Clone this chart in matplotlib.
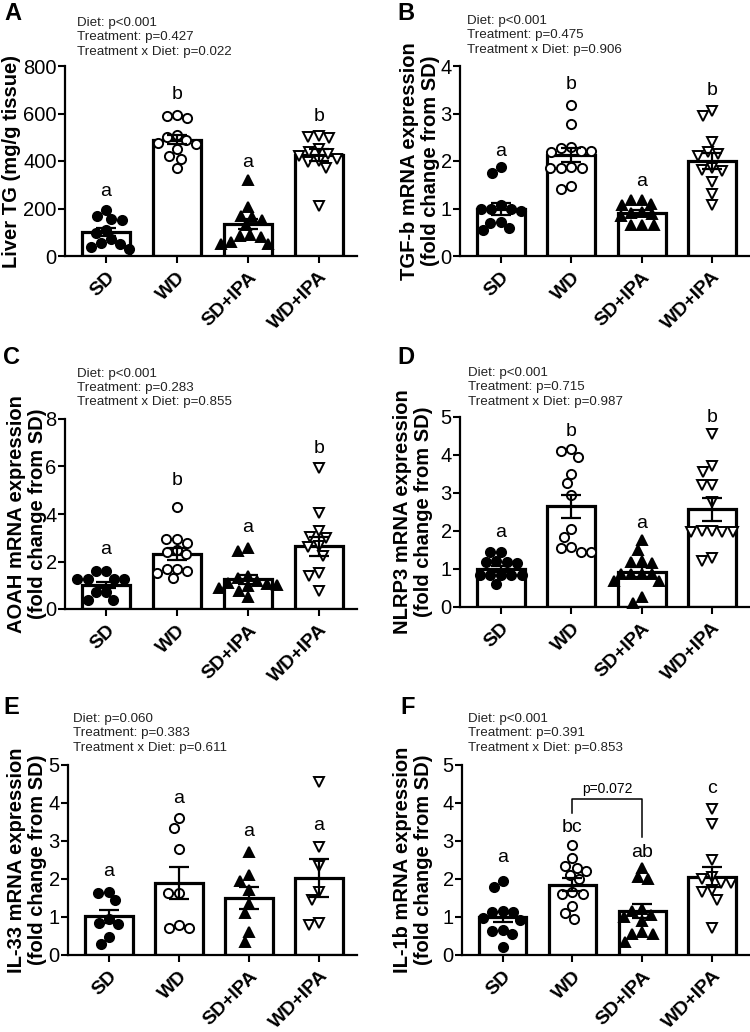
import numpy as np
import matplotlib
matplotlib.use("Agg")
from matplotlib import pyplot as plt

plt.rcParams['font.family'] = ['Liberation Sans', 'DejaVu Sans']

groups = ["SD", "WD", "SD+IPA", "WD+IPA"]

# ---------------------------------------------------------------- A: liver TG
tg_sd = [193, 150, 155, 168, 110, 95, 70, 55, 40, 30, 50]
tg_wd = [590, 580, 595, 510, 500, 490, 475, 470, 450, 420, 410, 370]
tg_sdipa = [320, 205, 170, 165, 150, 130, 90, 85, 60, 50, 50, 80]
tg_wdipa = [505, 500, 495, 450, 440, 430, 420, 410, 400, 395, 370, 210]
tg_mean = [102, 490, 134, 425]
tg_sem = [17, 20, 22, 27]
tg_letters = ["a", "b", "a", "b"]
tg_letter_y = [270, 680, 392, 588]

# ---------------------------------------------------------------- B: TGF-b
tgf_sd = [1.87, 1.75, 1.07, 1.0, 1.0, 0.98, 0.95, 0.72, 0.70, 0.58, 0.55]
tgf_wd = [3.18, 2.78, 2.22, 2.2, 2.22, 2.27, 2.3, 1.86, 1.85, 1.86, 1.88, 1.42, 1.48]
tgf_sdipa = [1.17, 1.17, 1.1, 1.08, 0.92, 0.9, 0.88, 0.85, 0.66, 0.66, 0.66]
tgf_wdipa = [3.05, 2.95, 2.4, 2.2, 2.15, 2.1, 1.82, 1.8, 1.85, 1.55, 1.3, 1.07]
tgf_mean = [0.99, 2.12, 0.91, 2.0]
tgf_sem = [0.13, 0.15, 0.06, 0.17]
tgf_letters = ["a", "b", "a", "b"]
tgf_letter_y = [2.2, 3.62, 1.56, 3.48]

# ---------------------------------------------------------------- C: AOAH
aoah_sd = [1.58, 1.58, 1.28, 1.25, 1.25, 1.28, 0.72, 0.40, 0.40, 0.72]
aoah_wd = [4.3, 2.95, 2.78, 2.95, 2.5, 2.42, 2.3, 1.68, 1.3, 1.52, 1.62, 1.7]
aoah_sdipa = [2.45, 2.55, 1.4, 1.3, 1.2, 1.1, 1.05, 1.0, 0.95, 0.9, 0.5, 0.75]
aoah_wdipa = [5.95, 4.05, 3.3, 3.0, 3.05, 2.65, 2.6, 2.25, 1.5, 1.4, 0.75]
aoah_mean = [1.02, 2.3, 1.25, 2.65]
aoah_sem = [0.12, 0.25, 0.18, 0.4]
aoah_letters = ["a", "b", "a", "b"]
aoah_letter_y = [2.52, 5.4, 3.43, 6.76]

# ---------------------------------------------------------------- D: NLRP3
nlrp3_sd = [1.45, 1.45, 1.18, 1.2, 1.16, 1.18, 0.83, 0.85, 0.83, 0.85, 0.83, 0.6]
nlrp3_wd = [4.15, 4.1, 3.95, 3.5, 3.25, 2.95, 2.05, 1.85, 1.55, 1.45, 1.45, 1.57]
nlrp3_sdipa = [1.77, 1.51, 1.21, 1.16, 1.18, 0.88, 0.88, 0.88, 0.88, 0.68, 0.68, 0.26, 0.1]
nlrp3_wdipa = [4.55, 3.7, 3.55, 3.2, 3.2, 2.75, 2.0, 1.97, 1.97, 1.97, 2.0, 1.22, 1.3]
nlrp3_mean = [1.0, 2.65, 0.92, 2.57]
nlrp3_sem = [0.08, 0.3, 0.13, 0.3]
nlrp3_letters = ["a", "b", "a", "b"]
nlrp3_letter_y = [1.97, 4.63, 2.19, 4.98]

# ---------------------------------------------------------------- E: IL-33
il33_sd = [1.67, 1.45, 1.62, 0.95, 0.85, 0.82, 0.48, 0.3]
il33_wd = [3.6, 3.35, 2.8, 1.62, 1.62, 0.8, 0.7, 0.72]
il33_sdipa = [2.7, 2.1, 1.95, 1.7, 1.35, 1.1, 0.6, 0.35]
il33_wdipa = [4.55, 2.85, 2.35, 1.65, 1.45, 0.8, 0.85]
il33_mean = [1.02, 1.9, 1.5, 2.02]
il33_sem = [0.17, 0.42, 0.28, 0.5]
il33_letters = ["a", "a", "a", "a"]
il33_letter_y = [2.21, 4.12, 3.26, 3.42]

# ---------------------------------------------------------------- F: IL-1b
il1b_sd = [1.8, 1.95, 1.12, 1.15, 1.12, 0.98, 0.92, 0.62, 0.55, 0.65, 0.22]
il1b_wd = [2.9, 2.55, 2.35, 2.3, 2.2, 2.0, 2.1, 1.65, 1.6, 1.6, 1.3, 1.1, 0.95]
il1b_sdipa = [2.3, 2.05, 2.0, 1.2, 1.15, 1.05, 1.0, 0.9, 0.6, 0.55, 0.55, 0.35]
il1b_wdipa = [3.85, 3.45, 2.5, 2.05, 2.0, 1.9, 1.9, 1.7, 1.65, 1.45, 0.7]
il1b_mean = [1.0, 1.85, 1.15, 2.05]
il1b_sem = [0.14, 0.17, 0.18, 0.27]
il1b_letters = ["a", "bc", "ab", "c"]
il1b_letter_y = [2.56, 3.36, 2.69, 4.39]
il1b_bracket = [4.1, 3.75, 3.1]   # top, left leg end, right leg end
il1b_bracket_text = "p=0.072"

# ---------------------------------------------------------------- stats text
stats_A = ["Diet: p<0.001", "Treatment: p=0.427", "Treatment x Diet: p=0.022"]
stats_B = ["Diet: p<0.001", "Treatment: p=0.475", "Treatment x Diet: p=0.906"]
stats_C = ["Diet: p<0.001", "Treatment: p=0.283", "Treatment x Diet: p=0.855"]
stats_D = ["Diet: p<0.001", "Treatment: p=0.715", "Treatment x Diet: p=0.987"]
stats_E = ["Diet: p=0.060", "Treatment: p=0.383", "Treatment x Diet: p=0.611"]
stats_F = ["Diet: p<0.001", "Treatment: p=0.391", "Treatment x Diet: p=0.853"]

W, H = 750, 1032
fig = plt.figure(figsize=(W / 100, H / 100), dpi=100)

UNIT_PX = 71.0   # pixels between bars
AX_H = 190.0     # axes height in pixels
DOT = 10.5       # spacing of swarm points in pixels

def swarm(vals, ymax):
    # simple beeswarm: put each point as close to the centre as it can go
    ppu = AX_H / ymax
    offs = np.zeros(len(vals))
    placed = []
    for i in np.argsort(vals)[::-1]:
        y = vals[i] * ppu
        ivs = []
        for xp, yp in placed:
            dy = y - yp
            if abs(dy) < DOT:
                h = np.sqrt(DOT ** 2 - dy ** 2)
                ivs.append((xp - h, xp + h))
        cands = [0.0] + [e for iv in ivs for e in iv]
        cands.sort(key=lambda c: (abs(c), c))
        x = 0.0
        for c in cands:
            if all(not (a + 1e-6 < c < b - 1e-6) for a, b in ivs):
                x = c
                break
        placed.append((x, y))
        offs[i] = x
    return offs / UNIT_PX

marker_styles = [
    dict(marker="o", mfc="black", mec="black"),
    dict(marker="o", mfc="white", mec="black"),
    dict(marker="^", mfc="black", mec="black"),
    dict(marker="v", mfc="white", mec="black"),
]

def panel(rect, letter, letter_xy, stats, stats_xy, ylabel, label_x,
          data, means, sems, letters, letter_y, ymax, yticks):
    l, t, r, b = rect
    ax = fig.add_axes([l / W, 1 - b / H, (r - l) / W, (b - t) / H])
    x = np.arange(len(groups))
    ax.bar(x, means, width=0.68, color="white", edgecolor="black",
           linewidth=2.3, zorder=1)
    for i, vals in enumerate(data):
        vals = np.array(vals, dtype=float)
        xs = i + swarm(vals, ymax)
        ax.plot(xs, vals, ls="none", ms=6.6, mew=1.4, zorder=3,
                clip_on=False, **marker_styles[i])
    ax.errorbar(x, means, yerr=sems, fmt="none", ecolor="black",
                elinewidth=1.6, capsize=7, capthick=1.6, zorder=4)
    for i in range(len(groups)):
        ax.text(x[i], letter_y[i], letters[i], ha="center", va="center",
                fontsize=14)
    ax.set_xlim(-0.58, 3.54)
    ax.set_ylim(0, ymax)
    ax.set_yticks(yticks)
    ax.set_xticks(x)
    ax.set_xticklabels(groups, rotation=45, ha="right",
                       rotation_mode="anchor", fontweight="bold",
                       fontsize=14)
    ax.tick_params(axis="y", labelsize=14.5, length=5, width=1.5, pad=1)
    ax.tick_params(axis="x", length=5, width=1.5, pad=4)
    for s in ["top", "right"]:
        ax.spines[s].set_visible(False)
    for s in ["left", "bottom"]:
        ax.spines[s].set_linewidth(1.6)
    fig.text(label_x / W, 1 - (t + b) / 2 / H, ylabel, rotation=90,
             ha="center", va="center", fontsize=14.5, fontweight="bold",
             multialignment="center", linespacing=1.1)
    fig.text(letter_xy[0] / W, 1 - letter_xy[1] / H, letter, ha="left",
             va="center", fontsize=17, fontweight="bold")
    fig.text(stats_xy[0] / W, 1 - stats_xy[1] / H, "\n".join(stats),
             ha="left", va="top", fontsize=9.6, linespacing=1.25,
             color="#222222")
    return ax

panel((65, 66, 357, 256), "A", (4, 13), stats_A, (77, 17),
      "Liver TG (mg/g tissue)", 12,
      [tg_sd, tg_wd, tg_sdipa, tg_wdipa], tg_mean, tg_sem,
      tg_letters, tg_letter_y, 800, [0, 200, 400, 600, 800])

panel((460, 66, 750, 256), "B", (397, 13), stats_B, (467, 15),
      "TGF-b mRNA expression\n(fold change from SD)", 420,
      [tgf_sd, tgf_wd, tgf_sdipa, tgf_wdipa], tgf_mean, tgf_sem,
      tgf_letters, tgf_letter_y, 4, [0, 1, 2, 3, 4])

panel((65, 419, 357, 609), "C", (3, 357), stats_C, (77, 368),
      "AOAH mRNA expression\n(fold change from SD)", 27,
      [aoah_sd, aoah_wd, aoah_sdipa, aoah_wdipa], aoah_mean, aoah_sem,
      aoah_letters, aoah_letter_y, 8, [0, 2, 4, 6, 8])

panel((460, 417, 750, 607), "D", (397, 357), stats_D, (468, 367),
      "NLRP3 mRNA expression\n(fold change from SD)", 413,
      [nlrp3_sd, nlrp3_wd, nlrp3_sdipa, nlrp3_wdipa], nlrp3_mean,
      nlrp3_sem, nlrp3_letters, nlrp3_letter_y, 5, [0, 1, 2, 3, 4, 5])

panel((68, 765, 357, 955), "E", (3, 708), stats_E, (73, 713),
      "IL-33 mRNA expression\n(fold change from SD)", 27,
      [il33_sd, il33_wd, il33_sdipa, il33_wdipa], il33_mean, il33_sem,
      il33_letters, il33_letter_y, 5, [0, 1, 2, 3, 4, 5])

axF = panel((462, 765, 750, 955), "F", (400, 708), stats_F, (468, 713),
            "IL-1b mRNA expression\n(fold change from SD)", 413,
            [il1b_sd, il1b_wd, il1b_sdipa, il1b_wdipa], il1b_mean,
            il1b_sem, il1b_letters, il1b_letter_y, 5, [0, 1, 2, 3, 4, 5])

top, lleg, rleg = il1b_bracket
axF.plot([1, 1, 2, 2], [lleg, top, top, rleg], color="black", lw=1.1)
axF.text(1.5, top + 0.08, il1b_bracket_text, ha="center", va="bottom",
         fontsize=10)

plt.savefig("out.png", dpi=100)
